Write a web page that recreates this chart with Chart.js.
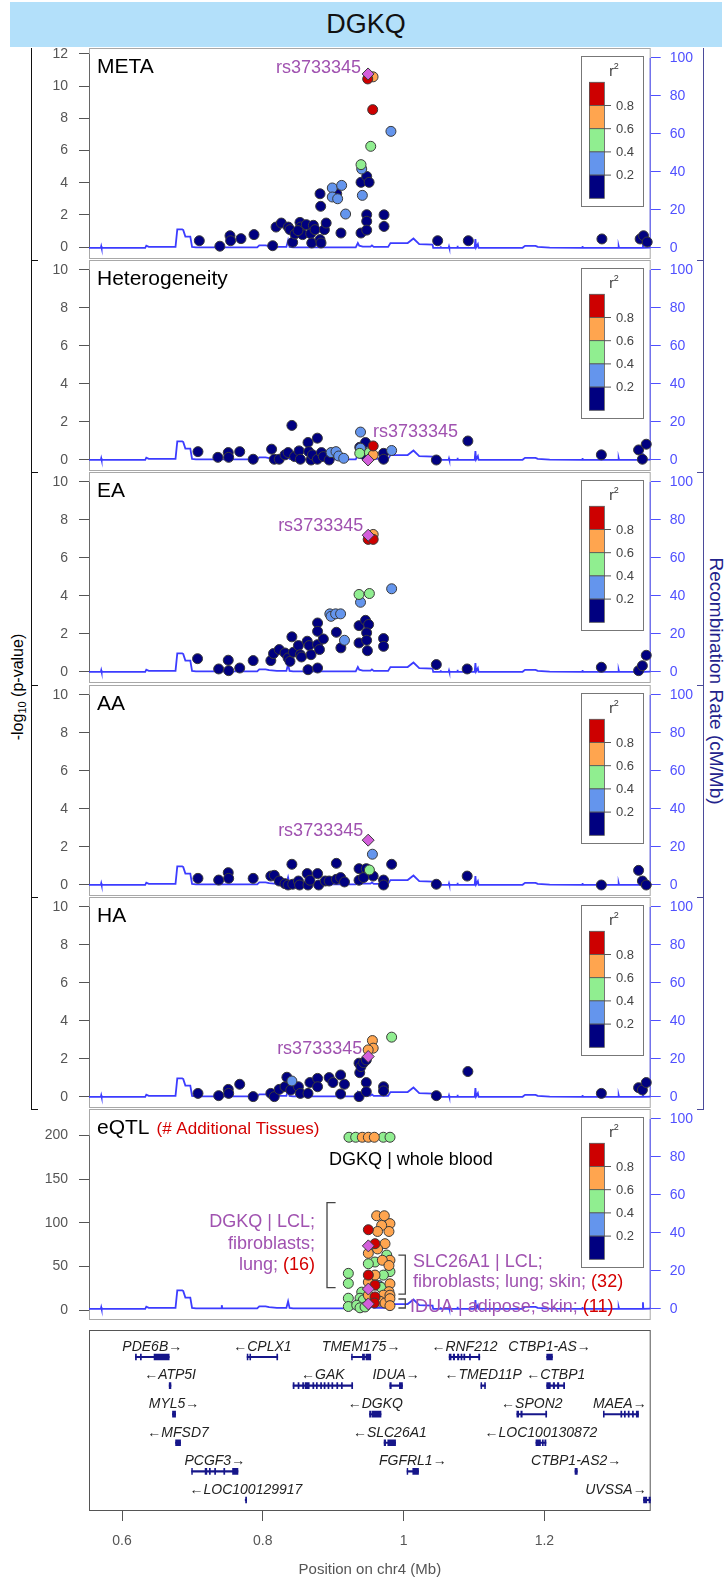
<!DOCTYPE html>
<html><head><meta charset="utf-8">
<script src="https://cdn.jsdelivr.net/npm/chart.js@4.4.1/dist/chart.umd.min.js"></script>
<style>
html,body{margin:0;padding:0;background:#fff;}
body{width:726px;height:1581px;position:relative;overflow:hidden;font-family:"Liberation Sans",Arial,Helvetica,sans-serif;}
#title{position:absolute;left:10px;top:2px;width:712px;height:45px;background:#b3e0fa;font-size:27px;line-height:45px;text-align:center;color:#111;}
canvas{position:absolute;left:0;}
.rule{position:absolute;}
#ylab{position:absolute;left:-82px;top:677px;width:200px;height:20px;line-height:20px;text-align:center;transform:rotate(-90deg);font-size:16px;color:#000;white-space:nowrap;}
#ylab sub{font-size:11px;vertical-align:-3px;}
#rlab{position:absolute;left:566px;top:669px;width:300px;height:24px;line-height:24px;text-align:center;transform:rotate(90deg);font-size:19px;color:#23238c;white-space:nowrap;}
</style></head>
<body>
<div id="title">DGKQ</div>
<div id="ylab">-log<sub>10</sub> (p-value)</div>
<div id="rlab">Recombination Rate (cM/Mb)</div>
<script>
// ---------------- DATA ----------------
const X_MIN = 0.5531, X_MAX = 1.3510;          // Mb
const LEAD_SNP = 'rs3733345';
const metaTicks = [0,2,4,6,8,10,12];
const gwasTicks = [0,2,4,6,8,10];
const eqtlTicks = [0,50,100,150,200];
const recombTicks = [0,20,40,60,80,100];
const xTicks = [0.6,0.8,1.0,1.2];
const legendLabels = ['0.8','0.6','0.4','0.2'];

// r2 class: 0 <0.2, 1 0.2-0.4, 2 0.4-0.6, 3 0.6-0.8, 4 >0.8, 5 lead SNP
const metaPos = [0.7098,0.7390,0.7534,0.7543,0.7690,0.7875,0.8140,0.8188,0.8263,0.8362,0.8386,0.8424,0.8457,0.8528,0.8538,0.8566,0.8500,0.8618,0.8680,0.8695,0.8718,0.8742,0.8813,0.8827,0.8875,0.8900,0.8813,0.8822,0.8987,0.8987,0.9050,0.9063,0.9120,0.9110,0.9176,0.9395,0.9395,0.9405,0.9395,0.9414,0.9476,0.9510,0.9476,0.9476,0.9476,0.9495,0.9490,0.9566,0.9561,0.9820,0.9533,0.9722,0.9722,1.0484,1.0919,1.2817,1.3360,1.3408,1.3460];
const metaP   = [0.39,0.05,0.70,0.39,0.52,0.77,0.08,1.24,1.49,1.24,1.08,0.29,0.81,1.53,1.24,0.77,1.02,1.39,0.83,0.25,1.35,1.08,0.46,0.25,1.08,1.49,3.31,2.53,3.67,3.11,3.31,3.00,3.83,0.87,2.05,0.87,4.02,4.85,5.12,3.21,4.39,4.02,2.01,1.60,1.05,10.76,10.45,10.58,8.54,7.19,6.26,2.00,1.28,0.39,0.39,0.50,0.50,0.70,0.31];
const metaR2  = [0,0,0,0,0,0,0,0,0,0,0,0,0,0,0,0,0,0,0,0,0,0,0,0,0,0,0,0,1,1,0,1,1,0,1,0,0,1,2,1,0,0,0,0,0,5,4,3,4,1,2,0,0,0,0,0,0,0,0];

const hetPos = [0.7079,0.7362,0.7509,0.7515,0.7672,0.7863,0.8125,0.8163,0.8233,0.8315,0.8359,0.8413,0.8451,0.8515,0.8533,0.8642,0.8653,0.8685,0.8705,0.8775,0.8775,0.8833,0.8860,0.8942,0.8969,0.9040,0.9078,0.9149,0.9388,0.9377,0.9459,0.9388,0.9377,0.9514,0.9568,0.9568,0.9495,0.9470,0.9715,0.9715,0.9830,1.0465,1.0913,1.2809,1.3338,1.3447,1.3392];
const hetP   = [0.44,0.14,0.39,0.14,0.44,0.04,0.57,0.04,0.04,0.27,0.39,1.82,0.18,0.48,0.04,0.92,0.44,0.00,0.27,1.15,0.04,0.39,0.18,0.00,0.39,0.44,0.21,0.09,1.47,0.67,0.92,0.62,0.35,0.39,0.74,0.27,0.00,0.18,0.35,0.04,0.50,0.00,1.00,0.27,0.53,0.83,0.04];
const hetR2  = [0,0,0,0,0,0,0,0,0,0,0,0,0,0,0,0,0,0,0,0,0,0,0,0,1,1,1,1,1,0,0,1,2,2,4,3,5,0,0,0,1,0,0,0,0,0,0];

const eaPos = [0.7073,0.7373,0.7509,0.7515,0.7672,0.7863,0.8114,0.8152,0.8233,0.8315,0.8359,0.8386,0.8413,0.8435,0.8506,0.8533,0.8549,0.8631,0.8642,0.8658,0.8685,0.8778,0.8778,0.8778,0.8778,0.8805,0.8860,0.8952,0.8969,0.9034,0.9105,0.9045,0.9109,0.9160,0.9367,0.9367,0.9459,0.9503,0.9475,0.9475,0.9486,0.9367,0.9514,0.9388,0.9830,0.9715,0.9715,0.9497,0.9568,0.9497,0.9568,1.0465,1.0903,1.2809,1.3338,1.3392,1.3447];
const eaP   = [0.70,0.16,0.62,0.07,0.21,0.60,0.60,0.97,1.18,1.00,0.74,0.56,1.85,1.04,1.39,0.91,0.79,1.62,0.12,1.39,0.91,2.58,2.14,1.44,0.21,1.18,1.74,3.06,2.93,3.06,3.06,2.09,1.27,1.67,2.44,1.53,2.72,2.50,2.06,1.67,1.12,4.08,4.13,3.67,4.38,1.76,1.35,7.20,7.24,6.98,6.98,0.39,0.16,0.25,0.07,0.33,0.88];
const eaR2  = [0,0,0,0,0,0,0,0,0,0,0,0,0,0,0,0,0,0,0,0,0,0,0,0,0,0,0,1,1,1,1,0,0,1,0,0,0,0,0,0,0,2,2,1,1,0,0,5,3,4,4,0,0,0,0,0,0];

const aaPos = [0.7079,0.7373,0.7509,0.7515,0.7863,0.8114,0.8163,0.8233,0.8315,0.8359,0.8413,0.8425,0.8506,0.8522,0.8631,0.8642,0.8669,0.8778,0.8794,0.8887,0.8942,0.9045,0.9045,0.9105,0.9160,0.9367,0.9367,0.9470,0.9514,0.9557,0.9497,0.9568,0.9432,0.9715,0.9715,0.9830,1.0465,1.0903,1.2809,1.3338,1.3392,1.3447];
const aaP   = [0.35,0.26,0.65,0.35,0.35,0.47,0.51,0.21,0.07,0.00,1.09,0.04,0.21,0.00,0.60,0.00,0.25,0.60,0.00,0.21,0.21,1.14,0.30,0.39,0.16,0.86,0.25,0.86,0.79,1.62,2.36,0.47,0.39,0.26,0.00,1.09,0.04,0.47,0.00,0.77,0.21,0.00];
const aaR2  = [0,0,0,0,0,0,0,0,0,0,0,0,0,0,0,0,0,0,0,0,0,0,0,0,0,0,0,0,2,1,5,0,0,0,0,0,0,0,0,0,0,0];

const haPos = [0.7079,0.7373,0.7509,0.7515,0.7672,0.7863,0.8114,0.8163,0.8233,0.8315,0.8342,0.8397,0.8413,0.8506,0.8533,0.8642,0.8669,0.8778,0.8778,0.8942,0.8996,0.9105,0.9160,0.9105,0.9367,0.9367,0.9377,0.9394,0.9432,0.9470,0.9470,0.9470,0.9497,0.9557,0.9568,0.9497,0.9830,0.9715,0.9715,1.0465,1.0913,1.2809,1.3338,1.3392,1.3447];
const haP   = [0.19,0.07,0.40,0.19,0.67,0.02,0.19,0.02,0.40,0.54,1.04,0.37,0.84,0.54,0.19,0.19,0.76,0.98,0.54,1.02,0.76,1.16,0.67,0.16,0.02,1.78,1.28,1.60,1.81,1.95,0.76,0.28,2.13,2.97,2.57,2.48,3.15,0.54,0.32,0.07,1.34,0.19,0.49,0.37,0.76];
const haR2  = [0,0,0,0,0,0,0,0,0,0,0,0,1,0,0,0,0,0,0,0,0,0,0,0,0,0,0,0,0,0,0,0,5,3,3,3,2,0,0,0,0,0,0,0,0];

const eqtlPos = [0.9224,0.9319,0.9413,0.9499,0.9584,0.9712,0.9807,0.9617,0.9726,0.9806,0.9792,0.9688,0.9499,0.9630,0.9594,0.9499,0.9736,0.9499,0.9630,0.9760,0.9806,0.9698,0.9594,0.9499,0.9792,0.9806,0.9499,0.9594,0.9713,0.9499,0.9594,0.9650,0.9499,0.9679,0.9806,0.9792,0.9405,0.9499,0.9594,0.9713,0.9806,0.9381,0.9428,0.9215,0.9215,0.9215,0.9215,0.9334,0.9381,0.9452,0.9499,0.9584,0.9665,0.9736,0.9806,0.9806,0.9523];
const eqtlP   = [198,198,198,198,198,198,198,108,108,99,90,97,92,90,76,73.5,76,65,70,63,57,57,55,53,51,44,40,40,40,32,28.5,28,24,26,30,21,20.5,17,15,17,17,13.5,11.5,42,30.5,13.5,4,5.5,2.5,3.5,7,8,10,8,13,5,13.5];
const eqtlR2  = [2,2,3,3,3,2,2,3,3,3,3,3,4,3,4,5,3,3,3,2,3,3,2,2,3,2,4,3,2,3,4,1,5,2,3,3,2,3,4,3,3,2,2,2,2,2,2,2,2,2,5,4,3,3,3,3,2];

// recombination rate (cM/Mb)
const recombPos  = [0.5531,0.5700,0.5705,0.5710,0.6330,0.6345,0.6380,0.6760,0.6785,0.6855,0.6870,0.6900,0.6970,0.6995,0.7050,0.7410,0.7417,0.7425,0.7920,0.7950,0.8040,0.8090,0.8200,0.8335,0.8359,0.8380,0.8430,0.9320,0.9350,0.9370,0.9420,0.9530,0.9550,0.9575,0.9780,0.9813,1.0058,1.0140,1.0222,1.0412,1.0420,1.0520,1.0525,1.0530,1.0640,1.0645,1.0650,1.0760,1.0765,1.0770,1.1010,1.1020,1.1030,1.1055,1.1065,1.1690,1.1725,1.1875,1.1905,1.2075,1.2535,1.2540,1.2545,1.3050,1.3055,1.3060,1.3395,1.3400,1.3405,1.3510];
const recombRate = [0.1,0.1,0.9,0.1,0.1,1.2,0.6,0.6,9.8,9.8,9.4,6.0,6.0,0.6,0.3,0.3,2.0,0.3,0.3,1.4,1.4,1.0,0.6,0.6,4.0,0.6,0.3,0.3,2.6,1.2,0.7,0.7,1.4,0.6,0.6,2.6,2.6,5.0,2.0,1.8,0.1,0.1,0.9,0.1,0.1,0.8,0.1,0.1,1.2,0.1,0.2,4.7,0.3,2.0,0.1,0.1,1.1,1.1,0.6,0.2,0.1,1.0,0.1,0.1,0.9,0.1,0.1,3.5,0.1,0.2];

// genes
const geneName   = ['PDE6B','CPLX1','TMEM175','RNF212','CTBP1-AS','ATP5I','GAK','IDUA','TMED11P','CTBP1','MYL5','DGKQ','SPON2','MAEA','MFSD7','SLC26A1','LOC100130872','PCGF3','FGFRL1','CTBP1-AS2','LOC100129917','UVSSA'];
const geneStrand = [1,-1,1,-1,1,-1,-1,1,-1,-1,1,-1,-1,1,-1,-1,-1,1,1,1,-1,1];
const geneRow    = [1,1,1,1,1,2,2,2,2,2,3,3,3,3,4,4,4,5,5,5,6,6];
const geneStart  = [0.619,0.7777,0.926,1.0647,1.2033,0.6670,0.843,0.9804,1.1098,1.2033,0.6717,0.9516,1.1609,1.2837,0.6761,0.9723,1.188,0.6989,1.0049,1.2435,0.7750,1.3408];
const geneEnd    = [0.667,0.8212,0.9533,1.1082,1.2114,0.6695,0.9277,0.9984,1.1163,1.2288,0.6761,0.9679,1.2033,1.3337,0.6832,0.9886,1.2022,0.7647,1.0212,1.2467,0.7770,1.3527];
const geneExons  = [
 [[0.619,0.6205],[0.626,0.6275],[0.6455,0.667]],
 [[0.7777,0.779],[0.7815,0.7828],[0.8198,0.8212]],
 [[0.926,0.9272],[0.9415,0.9445],[0.9465,0.9533]],
 [[1.0647,1.0675],[1.0705,1.0725],[1.0765,1.0785],[1.0815,1.083],[1.0855,1.087],[1.0935,1.095],[1.1065,1.1082]],
 [[1.2033,1.2114]],
 [[0.667,0.6695]],
 [[0.843,0.8445],[0.850,0.8515],[0.8565,0.858],[0.860,0.866],[0.871,0.8725],[0.876,0.8775],[0.882,0.8835],[0.887,0.8885],[0.8925,0.894],[0.898,0.8995],[0.905,0.9065],[0.9115,0.913],[0.9262,0.9277]],
 [[0.9804,0.9825],[0.994,0.9984]],
 [[1.1098,1.111],[1.115,1.1163]],
 [[1.2033,1.2085],[1.2125,1.2145],[1.2185,1.2205],[1.2272,1.2288]],
 [[0.6717,0.6761]],
 [[0.9516,0.9535],[0.955,0.9679]],
 [[1.1609,1.1635],[1.1665,1.1685],[1.2018,1.2033]],
 [[1.2837,1.285],[1.3085,1.31],[1.3135,1.315],[1.319,1.3205],[1.325,1.3265],[1.3305,1.3337]],
 [[0.6761,0.6832]],
 [[0.9723,0.9745],[0.9775,0.9886]],
 [[1.188,1.1945],[1.197,1.1985],[1.2005,1.2022]],
 [[0.6989,0.7],[0.718,0.7205],[0.724,0.7255],[0.7315,0.733],[0.7445,0.746],[0.757,0.7647]],
 [[1.0049,1.006],[1.013,1.0212]],
 [[1.2435,1.2467]],
 [[0.7755,0.777]],
 [[1.3408,1.3455],[1.3485,1.3527]]
];

// eQTL annotation texts (x in Mb, y in -log10 p units)
const PURPLE = '#a052b0', RED_TXT = '#d40000';
const eqtlNotes = [
 {x:1.0105, y:166,  align:'center', parts:[['DGKQ | whole blood','#000']]},
 {x:0.8741, y:95.5, align:'right',  parts:[['DGKQ | LCL;',PURPLE]]},
 {x:0.8741, y:69.6, align:'right',  parts:[['fibroblasts;',PURPLE]]},
 {x:0.8741, y:45.8, align:'right',  parts:[['lung; ',PURPLE],['(16)',RED_TXT]]},
 {x:1.0134, y:49.6, align:'left',   parts:[['SLC26A1 | LCL;',PURPLE]]},
 {x:1.0134, y:26,   align:'left',   parts:[['fibroblasts; lung; skin; ',PURPLE],['(32)',RED_TXT]]},
 {x:1.0091, y:-1.9, align:'left',   parts:[['IDUA | adipose; skin; ',PURPLE],['(11)',RED_TXT]]}
];
const eqtlBrackets = [
 {open:0.9034, spine:0.8912, top:123, bottom:25.6},
 {open:0.9926, spine:1.0024, top:63,  bottom:18.3},
 {open:0.9926, spine:1.0024, top:12.6, bottom:2.3}
];

// ---------------- STYLE / LAYOUT ----------------
const FONT = '"Liberation Sans", Arial, Helvetica, sans-serif';
Chart.defaults.font.family = FONT;
const R2_COLORS = ['#000080','#6495ed','#90ee90','#ffa54f','#cd0000'];
const LEAD_COLOR = '#d35fdb';
const RECOMB_COLOR = '#3c3cff';
const AXIS_BLUE = '#5050ff';
const PANEL_TOP0 = 48, PANEL_STEP = 212.2, PANEL_H = 211;
const AREA_LEFT = 89, AREA_RIGHT = 650.7, W = 726;

const panels = [
 {name:'META', pos:metaPos, val:metaP, cls:metaR2, yMin:-0.746, yMax:12.373, yTicks:metaTicks, lead:{dx:-7, dy:-1, align:'right'}},
 {name:'Heterogeneity', pos:hetPos, val:hetP, cls:hetR2, yMin:-0.579, yMax:10.526, yTicks:gwasTicks, lead:{dx:5, dy:-23, align:'left'}},
 {name:'EA', pos:eaPos, val:eaP, cls:eaR2, yMin:-0.579, yMax:10.526, yTicks:gwasTicks, lead:{dx:-5, dy:-4, align:'right'}},
 {name:'AA', pos:aaPos, val:aaP, cls:aaR2, yMin:-0.579, yMax:10.526, yTicks:gwasTicks, lead:{dx:-5, dy:-4, align:'right'}},
 {name:'HA', pos:haPos, val:haP, cls:haR2, yMin:-0.579, yMax:10.526, yTicks:gwasTicks, lead:{dx:-6, dy:-3, align:'right'}},
 {name:'eQTL', sub:'(# Additional Tissues)', pos:eqtlPos, val:eqtlP, cls:eqtlR2, yMin:-11.46, yMax:230.37, yTicks:eqtlTicks, eqtl:true}
];

// outer frame rules
function rule(l,t,w,h,c){const d=document.createElement('div');d.className='rule';d.style.cssText=`left:${l}px;top:${t}px;width:${w}px;height:${h}px;background:${c}`;document.body.appendChild(d);}
const panelTops = panels.map((p,i)=>Math.round(PANEL_TOP0 + i*PANEL_STEP));
rule(31,48,1,1109-48,'#111');
rule(703,48,1,1109-48,'#4b4b9a');
[260,472,685,897,1109].forEach(y=>{rule(31,y,7,1,'#111');rule(697,y,7,1,'#4b4b9a');});

function drawLegend(ctx,a){
  const bx=a.right-69.7, by=a.top+7.7, bw=61.7, bh=150;
  ctx.fillStyle='#fff'; ctx.fillRect(bx,by,bw,bh);
  ctx.strokeStyle='#777'; ctx.lineWidth=1; ctx.strokeRect(Math.round(bx)+0.5,Math.round(by)+0.5,Math.round(bw),Math.round(bh));
  const cx=Math.round(a.right-61.4), cw=15, cy=a.top+34.3, seg=23.2;
  [4,3,2,1,0].forEach((c,k)=>{
    ctx.fillStyle=R2_COLORS[c]; ctx.fillRect(cx,cy+k*seg,cw,seg);
    ctx.strokeStyle='#555'; ctx.lineWidth=0.8; ctx.strokeRect(cx+0.5,cy+k*seg,cw,seg);
  });
  ctx.fillStyle='#444'; ctx.strokeStyle='#555'; ctx.lineWidth=1;
  ctx.font='13px '+FONT; ctx.textAlign='left'; ctx.textBaseline='middle';
  legendLabels.forEach((t,k)=>{
    const y=cy+(k+1)*seg;
    ctx.beginPath(); ctx.moveTo(cx+cw,y); ctx.lineTo(cx+cw+7,y); ctx.stroke();
    ctx.fillText(t,cx+cw+12,y+0.5);
  });
  ctx.textBaseline='alphabetic'; ctx.fillStyle='#333';
  ctx.font='14px '+FONT; ctx.fillText('r',a.right-41.5,a.top+28);
  ctx.font='9px '+FONT; ctx.fillText('2',a.right-37,a.top+21);
}

function panelDecor(def){
  return {
    id:'panelDecor',
    beforeDatasetsDraw(chart){
      const {ctx,chartArea:a}=chart, ys=chart.scales.y, y2=chart.scales.y2;
      ctx.save();
      ctx.lineWidth=1; ctx.strokeStyle='#a8a8a8';
      ctx.strokeRect(a.left+0.5,a.top+0.5,a.right-a.left-1,a.bottom-a.top-1);
      ctx.strokeStyle='#666'; ctx.beginPath();
      ctx.moveTo(a.left+0.5,ys.getPixelForValue(def.yTicks[0]));
      ctx.lineTo(a.left+0.5,ys.getPixelForValue(def.yTicks[def.yTicks.length-1])); ctx.stroke();
      ctx.strokeStyle=AXIS_BLUE; ctx.beginPath();
      ctx.moveTo(a.right-0.5,y2.getPixelForValue(recombTicks[0]));
      ctx.lineTo(a.right-0.5,y2.getPixelForValue(recombTicks[recombTicks.length-1])); ctx.stroke();
      ctx.restore();
    },
    afterDatasetsDraw(chart){
      const {ctx,chartArea:a}=chart, xs=chart.scales.x, ys=chart.scales.y;
      ctx.save();
      ctx.font='21px '+FONT; ctx.fillStyle='#000'; ctx.textAlign='left'; ctx.textBaseline='alphabetic';
      ctx.fillText(def.name,a.left+8,a.top+25);
      if(def.sub){
        const w=ctx.measureText(def.name).width;
        ctx.font='17px '+FONT; ctx.fillStyle=RED_TXT; ctx.fillText(def.sub,a.left+8+w+7,a.top+25);
      }
      const li=def.cls.indexOf(5);
      if(def.lead && li>=0){
        const px=xs.getPixelForValue(def.pos[li]), py=ys.getPixelForValue(def.val[li]);
        ctx.font='18px '+FONT; ctx.fillStyle=PURPLE; ctx.textAlign=def.lead.align;
        ctx.fillText(LEAD_SNP,px+def.lead.dx,py+def.lead.dy);
      }
      if(def.eqtl){
        ctx.font='18px '+FONT; ctx.textAlign='left';
        eqtlNotes.forEach(n=>{
          const total=n.parts.reduce((s,p)=>s+ctx.measureText(p[0]).width,0);
          let x=xs.getPixelForValue(n.x);
          if(n.align==='right') x-=total; else if(n.align==='center') x-=total/2;
          const y=ys.getPixelForValue(n.y);
          n.parts.forEach(p=>{ctx.fillStyle=p[1]; ctx.fillText(p[0],x,y); x+=ctx.measureText(p[0]).width;});
        });
        ctx.strokeStyle='#444'; ctx.lineWidth=1.3;
        eqtlBrackets.forEach(b=>{
          const xo=xs.getPixelForValue(b.open), xsp=xs.getPixelForValue(b.spine);
          const yt=ys.getPixelForValue(b.top), yb=ys.getPixelForValue(b.bottom);
          ctx.beginPath(); ctx.moveTo(xo,yt); ctx.lineTo(xsp,yt); ctx.lineTo(xsp,yb); ctx.lineTo(xo,yb); ctx.stroke();
        });
      }
      drawLegend(ctx,a);
      ctx.restore();
    }
  };
}

function noPad(s){ s.paddingTop=0; s.paddingBottom=0; s.paddingLeft=0; s.paddingRight=0; }

function buildPanel(def,idx){
  const cv=document.createElement('canvas');
  cv.width=W; cv.height=PANEL_H; cv.style.top=panelTops[idx]+'px';
  document.body.appendChild(cv);
  const ds=[{
    type:'line', yAxisID:'y2', data:recombPos.map((p,i)=>({x:p,y:recombRate[i]})),
    borderColor:RECOMB_COLOR, borderWidth:1.8, pointRadius:0, tension:0, fill:false, order:100
  }];
  for(let c=0;c<=5;c++){
    const pts=[];
    def.pos.forEach((p,i)=>{ if(def.cls[i]===c) pts.push({x:p,y:def.val[i]}); });
    if(!pts.length) continue;
    ds.push({type:'scatter', yAxisID:'y', data:pts,
      pointStyle:c===5?'rectRot':'circle', pointRadius:c===5?6:5,
      backgroundColor:c===5?LEAD_COLOR:R2_COLORS[c], borderColor:'#3a3a3a', borderWidth:1,
      order:10-c, clip:false});
  }
  new Chart(cv,{
    type:'scatter', data:{datasets:ds},
    options:{
      responsive:false, animation:false, devicePixelRatio:1, events:[],
      layout:{padding:0, autoPadding:false},
      plugins:{legend:{display:false}, tooltip:{enabled:false}},
      scales:{
        x:{type:'linear', min:X_MIN, max:X_MAX, display:false},
        y:{type:'linear', position:'left', min:def.yMin, max:def.yMax,
           afterBuildTicks:s=>{s.ticks=def.yTicks.map(v=>({value:v}));},
           afterFit:s=>{s.width=AREA_LEFT; noPad(s);},
           grid:{drawOnChartArea:false, drawTicks:true, tickLength:10, color:'#555', tickColor:'#555'},
           border:{display:false},
           ticks:{color:'#555', padding:11, font:{size:14}, callback:v=>String(v)}},
        y2:{type:'linear', position:'right', min:-5.79, max:105.26,
           afterBuildTicks:s=>{s.ticks=recombTicks.map(v=>({value:v}));},
           afterFit:s=>{s.width=W-AREA_RIGHT; noPad(s);},
           grid:{drawOnChartArea:false, drawTicks:true, tickLength:10, color:AXIS_BLUE, tickColor:AXIS_BLUE},
           border:{display:false},
           ticks:{color:AXIS_BLUE, padding:9, font:{size:14}, callback:v=>String(v)}}
      }
    },
    plugins:[panelDecor(def)]
  });
}
panels.forEach(buildPanel);

// ---------------- gene track ----------------
(function(){
  const top=1330, h=W-W+251;
  const cv=document.createElement('canvas');
  cv.width=W; cv.height=h; cv.style.top=top+'px';
  document.body.appendChild(cv);
  const exonData=[];
  geneExons.forEach((ex,i)=>ex.forEach(e=>exonData.push({x:[e[0],e[1]],y:geneRow[i]})));
  const geneColor='#16168a';
  const labelPlugin={
    id:'geneDecor',
    beforeDatasetsDraw(chart){
      const {ctx,chartArea:a}=chart;
      ctx.save(); ctx.strokeStyle='#555'; ctx.lineWidth=1;
      ctx.strokeRect(a.left+0.5,a.top+0.5,a.right-a.left-1,a.bottom-a.top-1);
      ctx.restore();
    },
    afterDatasetsDraw(chart){
      const {ctx,chartArea:a}=chart, xs=chart.scales.x, ys=chart.scales.y;
      ctx.save();
      ctx.font='italic 14px '+FONT; ctx.fillStyle='#222'; ctx.textBaseline='middle'; ctx.textAlign='left';
      geneName.forEach((n,i)=>{
        const t=geneStrand[i]>0? n+'\u2192' : '\u2190'+n;
        const w=ctx.measureText(t).width;
        let cx=xs.getPixelForValue((geneStart[i]+geneEnd[i])/2);
        let l=cx-w/2;
        if(l<a.left+4) l=a.left+4;
        if(l+w>a.right-4) l=a.right-4-w;
        ctx.fillText(t,l,ys.getPixelForValue(geneRow[i])-10);
      });
      ctx.restore();
    }
  };
  new Chart(cv,{
    type:'bar',
    data:{datasets:[
      {data:geneName.map((n,i)=>({x:[geneStart[i],geneEnd[i]],y:geneRow[i]})), backgroundColor:geneColor, barThickness:1.4, grouped:false, order:2},
      {data:exonData, backgroundColor:geneColor, barThickness:6, grouped:false, order:1}
    ]},
    options:{
      indexAxis:'y', responsive:false, animation:false, devicePixelRatio:1, events:[],
      layout:{padding:{left:AREA_LEFT,right:W-AREA_RIGHT,top:0,bottom:0}, autoPadding:false},
      plugins:{legend:{display:false}, tooltip:{enabled:false}},
      scales:{
        x:{type:'linear', position:'bottom', min:X_MIN, max:X_MAX,
           afterBuildTicks:s=>{s.ticks=xTicks.map(v=>({value:v}));},
           afterFit:s=>{s.height=70; noPad(s);},
           grid:{drawOnChartArea:false, drawTicks:true, tickLength:10, color:'#555', tickColor:'#555'},
           border:{display:false},
           ticks:{color:'#555', padding:12, font:{size:14}, callback:v=>String(v), maxRotation:0},
           title:{display:true, text:'Position on chr4 (Mb)', color:'#555', font:{size:15}, padding:{top:0,bottom:2}}},
        y:{type:'linear', min:0.056, max:6.385, reverse:true, display:false, offset:false}
      }
    },
    plugins:[labelPlugin]
  });
})();
</script>
</body></html>
